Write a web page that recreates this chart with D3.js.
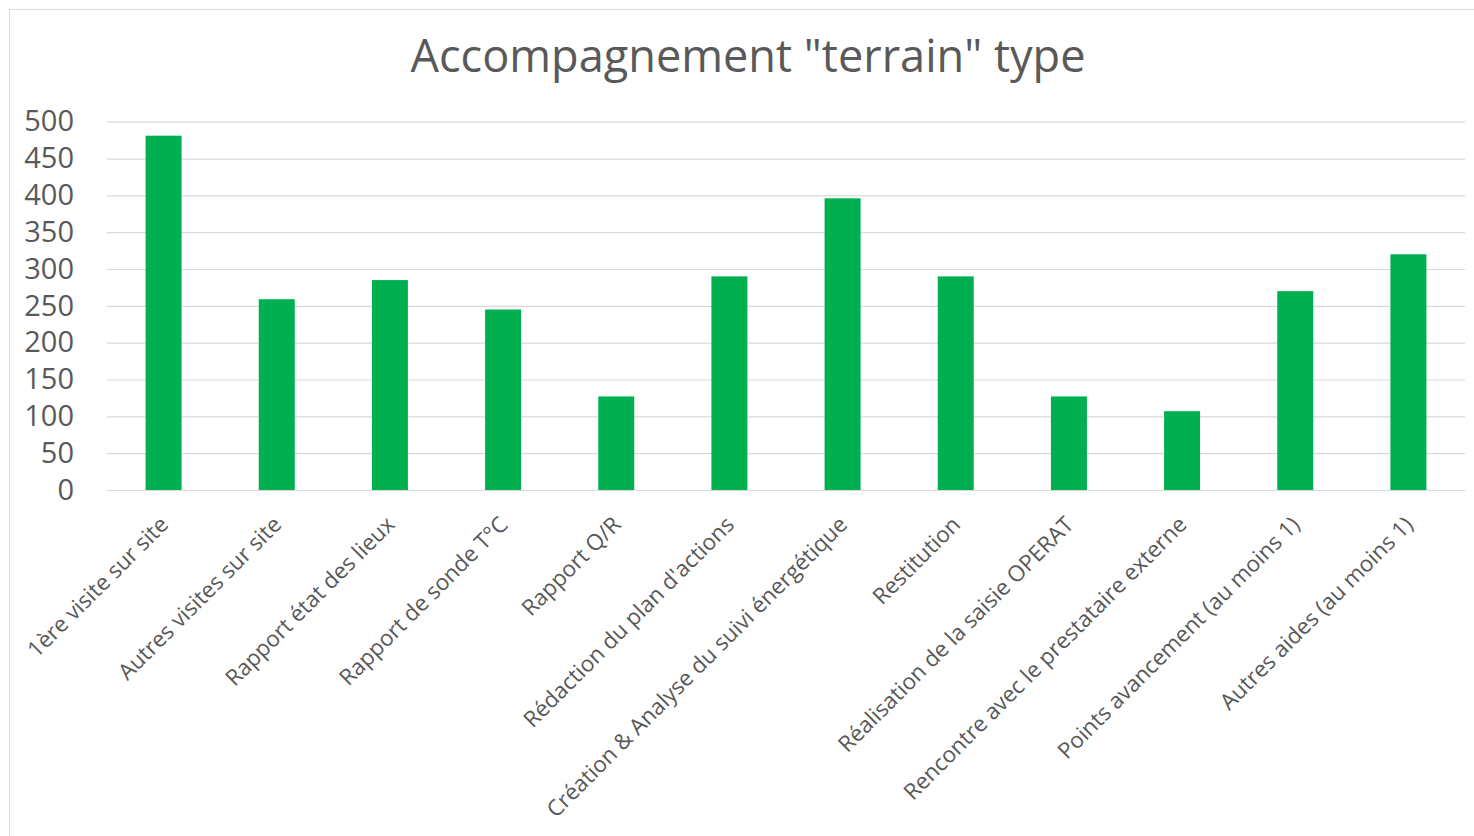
<!DOCTYPE html>
<html>
<head>
<meta charset="utf-8">
<script src="https://cdn.jsdelivr.net/npm/d3@7"></script>
<style>
  html, body { margin: 0; padding: 0; background: #fff; }
  svg { display: block; }
</style>
</head>
<body>
<svg id="chart" width="1474" height="836"></svg>
<script>
const title = 'Accompagnement "terrain" type';
const categories = [
  "1ère visite sur site",
  "Autres visites sur site",
  "Rapport état des lieux",
  "Rapport de sonde T°C",
  "Rapport Q/R",
  "Rédaction du plan d'actions",
  "Création & Analyse du suivi énergétique",
  "Restitution",
  "Réalisation de la saisie OPERAT",
  "Rencontre avec le prestataire externe",
  "Points avancement (au moins 1)",
  "Autres aides (au moins 1)"
];
const values = [481, 259, 285, 245, 127, 290, 396, 290, 127, 107, 270, 320];
const yTicks = [0, 50, 100, 150, 200, 250, 300, 350, 400, 450, 500];

const svg = d3.select("#chart");
const FONT = "'Open Sans', 'DejaVu Sans', sans-serif";
const TEXT = "#595959";
const GRID = "#D9D9D9";

// chart border
svg.append("rect")
  .attr("x", 9.5).attr("y", 9.5)
  .attr("width", 1600).attr("height", 1000)
  .attr("fill", "none").attr("stroke", GRID).attr("stroke-width", 1);

const x = d3.scaleBand().domain(categories).range([107, 1465])
  .paddingInner(0.682).paddingOuter(0.341);
const y = d3.scaleLinear().domain([0, 500]).range([490, 121.7]);

// title
const t = svg.append("text")
  .attr("x", 748).attr("y", 72)
  .attr("text-anchor", "middle")
  .attr("fill", TEXT)
  .style("font-family", FONT)
  .style("font-size", "44px")
  .text(title);
const tw = t.node().getComputedTextLength();
t.style("font-size", (44 * 675 / tw).toFixed(2) + "px");

// y axis + gridlines
const yAxis = svg.append("g")
  .attr("transform", "translate(107,0)")
  .call(d3.axisLeft(y).tickValues(yTicks).tickSize(-1358).tickPadding(33));
yAxis.select(".domain").remove();
yAxis.selectAll(".tick line").attr("stroke", GRID).attr("stroke-width", 1.2);
yAxis.selectAll(".tick text")
  .attr("fill", TEXT)
  .style("font-family", FONT)
  .style("font-size", "29px");

// bars
svg.append("g").selectAll("rect")
  .data(values)
  .join("rect")
  .attr("x", (d, i) => x(categories[i]))
  .attr("y", d => y(d))
  .attr("width", x.bandwidth())
  .attr("height", d => y(0) - y(d))
  .attr("fill", "#00B050");

// x axis
const xAxis = svg.append("g")
  .attr("transform", "translate(0,490)")
  .call(d3.axisBottom(x).tickSize(0));
xAxis.select(".domain").attr("stroke", GRID).attr("stroke-width", 1.2);
xAxis.selectAll(".tick text")
  .attr("fill", TEXT)
  .style("font-family", FONT)
  .style("font-size", "22.3px")
  .attr("text-anchor", "end")
  .attr("x", 0).attr("y", 0).attr("dy", 0)
  .attr("transform", "translate(6,36) rotate(-45)");
</script>
</body>
</html>
